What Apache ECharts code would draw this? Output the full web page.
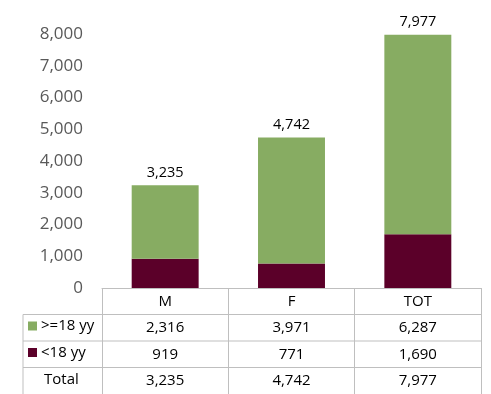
<!DOCTYPE html>
<html><head><meta charset="utf-8">
<script src="https://cdn.jsdelivr.net/npm/echarts@6/dist/echarts.min.js"></script>
<style>html,body{margin:0;padding:0;background:#fff}#c{width:491px;height:394px}</style>
</head><body><div id="c"></div>
<script>
var categories = ['M', 'F', 'TOT'];
var adult = [2316, 3971, 6287];
var minor = [919, 771, 1690];
var total = [3235, 4742, 7977];
var seriesNames = ['>=18 yy', '<18 yy'];
var yTicks = [0, 1000, 8000];

var FONT = '"Open Sans", sans-serif';
var LINE = '#bfbfbf';
var GREEN = '#87ac62';
var MAROON = '#5b0029';
var gridLeft = 102, gridRight = 10, gridTop = 34, gridBottom = 106;
var rowH = 26.5, tableLeft = 23;

function fmt(v) { return v.toLocaleString('en-US'); }

var chart = echarts.init(document.getElementById('c'));
var H = 394, W = 491;
var axisY = H - gridBottom;

var rows = [adult, minor, total];
var xAxes = [{
  type: 'category', data: categories, position: 'bottom',
  axisLine: { show: true, lineStyle: { color: LINE, width: 1 } },
  axisTick: { show: true, length: rowH * 4, lineStyle: { color: LINE, width: 1 } },
  axisLabel: { color: '#000', fontFamily: FONT, fontSize: 15, margin: 6 }
}];
rows.forEach(function (arr, r) {
  xAxes.push({
    type: 'category', data: categories, position: 'bottom', offset: rowH * (r + 1),
    axisLine: { show: false }, axisTick: { show: false },
    axisLabel: { color: '#000', fontFamily: FONT, fontSize: 15, margin: 6,
      formatter: function (v, i) { return fmt(arr[i]); } }
  });
});

var graphics = [];
for (var r = 1; r <= 3; r++) {
  graphics.push({ type: 'line', silent: true,
    shape: { x1: tableLeft, y1: axisY + rowH * r, x2: W - gridRight, y2: axisY + rowH * r },
    style: { stroke: LINE, lineWidth: 1 } });
}
graphics.push({ type: 'line', silent: true,
  shape: { x1: tableLeft, y1: axisY + rowH, x2: tableLeft, y2: H },
  style: { stroke: LINE, lineWidth: 1 } });
graphics.push({ type: 'text', left: 44, top: axisY + rowH * 3 + 5,
  style: { text: 'Total', fill: '#000', font: '15px ' + FONT } });

function legendFor(name, r) {
  return {
    data: [name], orient: 'vertical', left: 28, top: axisY + rowH * r + 4,
    itemWidth: 9, itemHeight: 9, icon: 'rect', itemGap: 0,
    textStyle: { color: '#000', fontFamily: FONT, fontSize: 15, padding: [0, 0, 0, -1] },
    padding: 0
  };
}

chart.setOption({
  animation: false,
  grid: { left: gridLeft, right: gridRight, top: gridTop, bottom: gridBottom },
  legend: [legendFor(seriesNames[0], 1), legendFor(seriesNames[1], 2)],
  xAxis: xAxes,
  yAxis: {
    type: 'value', min: yTicks[0], max: yTicks[2], interval: yTicks[1],
    axisLine: { show: false }, axisTick: { show: false }, splitLine: { show: false },
    axisLabel: { color: '#595959', fontFamily: FONT, fontSize: 17, margin: 19,
      formatter: function (v) { return fmt(v); } }
  },
  series: [
    { name: seriesNames[1], type: 'bar', stack: 's', data: minor, barCategoryGap: '47%',
      itemStyle: { color: MAROON } },
    { name: seriesNames[0], type: 'bar', stack: 's', data: adult, barCategoryGap: '47%',
      itemStyle: { color: GREEN },
      label: { show: true, position: 'top', distance: 5, color: '#000', fontFamily: FONT, fontSize: 14.5,
        formatter: function (p) { return fmt(total[p.dataIndex]); } } }
  ],
  graphic: graphics
});
</script></body></html>
